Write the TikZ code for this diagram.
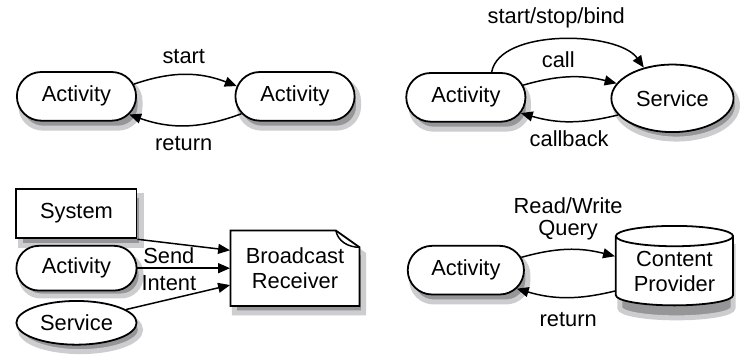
\documentclass[tikz,border=0pt]{standalone}
\usepackage{fontspec}
\setmainfont{Liberation Sans}
\usetikzlibrary{shapes.misc,shapes.geometric,arrows.meta}
\definecolor{shadowdark}{RGB}{150,150,152}
\definecolor{shadowlight}{RGB}{205,205,207}

\begin{document}
\begin{tikzpicture}[x=0.5pt,y=0.5pt,
    font=\fontsize{11}{12.5}\selectfont,
    comp/.style={draw,line width=0.9pt,fill=white},
    act/.style={comp,rounded rectangle,minimum width=60pt,minimum height=24.5pt,inner sep=0pt},
    srv/.style={comp,ellipse,inner sep=0pt},
    shd/.style={fill=shadowdark,draw=shadowlight,line width=2.5pt},
    msg/.style={line width=0.75pt,-{Triangle[length=6pt,width=5pt]}}]
  \fill[white] (0,0) rectangle (740,-356);

  % shadows
  \filldraw[shd,rounded corners=11pt] (21,-80) rectangle (141,-129);
  \filldraw[shd,rounded corners=11pt] (241,-80) rectangle (361,-129);
  \filldraw[shd,rounded corners=11pt] (414,-81) rectangle (532,-130);
  \filldraw[shd] (681,-106) ellipse [x radius=61.5,y radius=34];
  \filldraw[shd] (21,-197) rectangle (142,-247);
  \filldraw[shd,rounded corners=10pt] (21,-256) rectangle (142,-298);
  \filldraw[shd] (81,-332) ellipse [x radius=60.5,y radius=22];
  \filldraw[shd] (236,-239) -- (342,-239) -- (366,-256) -- (366,-315) -- (236,-315) -- cycle;
  \filldraw[shd,rounded corners=11pt] (414.5,-255) rectangle (531.5,-304);
  \filldraw[shd] (624,-248) -- (738,-248) -- (738,-310) arc[start angle=0,end angle=-180,x radius=57,y radius=10] -- cycle;

  % activity -> activity
  \node[act] (act1) at (77,-97) {Activity};
  \node[act] (act2) at (297,-97) {Activity};
  \draw[msg] (act1.12) to[bend left=20] (act2.170);
  \draw[msg] (act2.-162) to[bend left=20] (act1.-19);
  \node (lstart) at (185,-57) {start};
  \node (lret1) at (185,-145) {return};

  % activity -> service
  \node[act] (act3) at (469,-98) {Activity};
  \node[srv,minimum width=61.5pt,minimum height=34pt] (srv1) at (677,-99) {Service};
  \draw[msg] ([xshift=13pt]act3.north) to[out=80,in=125,looseness=0.75] (srv1.133);
  \draw[msg] (act3.12) to[bend left=15] (srv1.165);
  \draw[msg] (srv1.-163) to[bend left=15] (act3.-16);
  \node (lssb) at (560,-18) {start/stop/bind};
  \node (lcall) at (562,-60) {call};
  \node (lcb) at (573,-140) {callback};

  % senders -> broadcast receiver
  \node[comp,minimum width=60.5pt,minimum height=25pt] (sys) at (77,-215) {System};
  \node[act,minimum width=60.5pt,minimum height=22.5pt] (act5) at (77,-270) {Activity};
  \node[srv,minimum width=60.5pt,minimum height=22pt] (srv2) at (77,-325) {Service};
  \filldraw[comp] (232,-232) -- (338,-232) -- (362,-249) -- (362,-308) -- (232,-308) -- cycle;
  \node[minimum width=65pt,minimum height=38pt,align=center,inner sep=0pt] (brc) at (297,-270) {Broadcast\\Receiver};
  \draw[line width=0.75pt] ([xshift=20.5pt]brc.north) to[out=-80,in=180] ([yshift=10.5pt]brc.east);
  \draw[msg] (sys.south east) -- ([yshift=9pt]brc.west);
  \draw[msg] (act5.east) -- (brc.west);
  \draw[msg] (srv2.15) -- ([yshift=-8.5pt]brc.west);
  \node (lsend) at (170,-257) {Send};
  \node (lint) at (170,-285) {Intent};

  % activity -> content provider
  \node[act,minimum width=58.5pt] (act6) at (469,-272) {Activity};
  \node[comp,cylinder,shape border rotate=90,aspect=0.25,minimum width=59pt,minimum height=40pt,
    align=center,inner sep=0pt] (cp) at (679,-273) {Content\\Provider};
  \draw[msg] (act6.13) to[bend left=15] ([yshift=7.5pt]cp.west);
  \draw[msg] ([yshift=-10pt]cp.west) to[bend left=15] (act6.-20);
  \node (lrw) at (572,-207) {Read/Write};
  \node (lq) at (572,-232) {Query};
  \node (lret2) at (572,-322) {return};
\end{tikzpicture}
\end{document}
